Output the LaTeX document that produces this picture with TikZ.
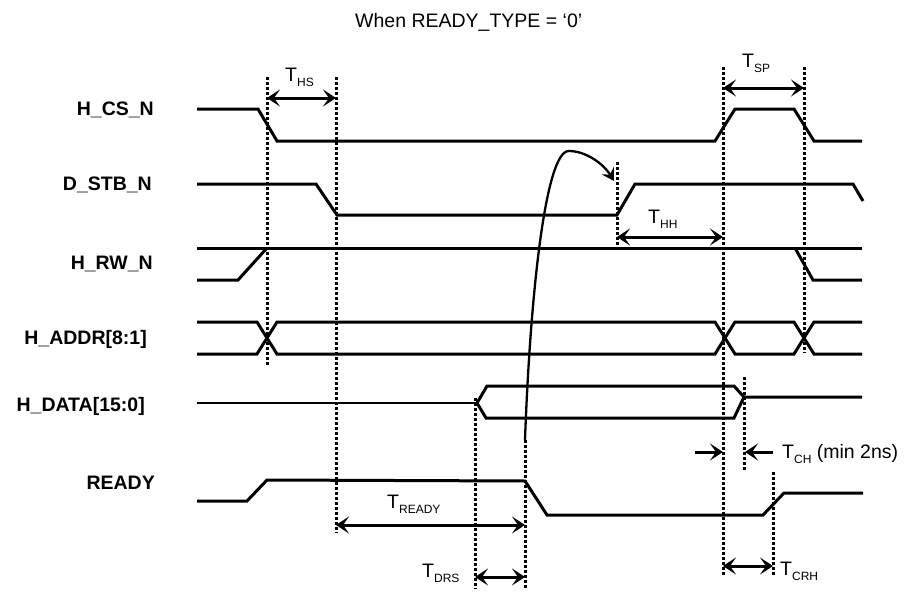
\documentclass[tikz,border=0pt]{standalone}
\usepackage{fontspec}
\setmainfont{Liberation Sans}
\usetikzlibrary{arrows.meta}
\newcommand{\Tsub}[1]{T\raisebox{-5.5pt}{\fontsize{12}{13}\selectfont #1}}
\begin{document}
\begin{tikzpicture}[x=1pt,y=-1pt,
  wave/.style={line width=3pt},
  thinwave/.style={line width=2.3pt},
  guide/.style={line width=3pt, dash pattern=on 2.7pt off 2.3pt},
  tip/.tip={Stealth[length=13pt,width=17pt,inset=6pt]},
  dim/.style={line width=3pt, tip-tip},
  onedim/.style={line width=3pt, -tip},
  sig/.style={font=\bfseries\fontsize{19.5}{22}\selectfont, inner sep=0pt, anchor=base east},
  tlab/.style={font=\fontsize{19.5}{22}\selectfont, inner sep=0pt, anchor=base west}]
\useasboundingbox (0,0) rectangle (906,592);

% title
\node[tlab] (title) at (355,27) {When READY\_TYPE = ‘0’};

% signal names
\node[sig] (lcs)   at (154,115) {H\_CS\_N};
\node[sig] (lstb)  at (152,190) {D\_STB\_N};
\node[sig] (lrw)   at (153,269) {H\_RW\_N};
\node[sig] (laddr) at (147,344) {H\_ADDR[8:1]};
\node[sig] (ldata) at (145,411) {H\_DATA[15:0]};
\node[sig] (lrdy)  at (155,489) {READY};

% waveforms
\draw[wave] (197,109) -- (258,109) -- (277,141) -- (715,141) -- (735,109) -- (794,109) -- (814,141) -- (862,141);
\draw[wave] (197,184) -- (316,184) -- (337,215) -- (617,215) -- (635,184) -- (853,184) -- (863,201);
\draw[wave] (197,248) -- (862,248);
\draw[wave] (197,280) -- (238,280) -- (267,248);
\draw[wave] (795,248) -- (813,280) -- (862,280);
\draw[wave] (197,322) -- (257,322) -- (277,354) -- (715,354) -- (735,322) -- (794,322) -- (814,354) -- (862,354);
\draw[wave] (197,354) -- (257,354) -- (277,322) -- (715,322) -- (735,354) -- (794,354) -- (814,322) -- (862,322);
\draw[thinwave] (197,403) -- (477,403);
\draw[wave] (477,403) -- (487,386) -- (734,386) -- (744,397) -- (862,397);
\draw[wave] (477,403) -- (486,418) -- (734,418) -- (744,397);
\draw[wave] (197,501) -- (247,501) -- (267,480) -- (525,481) -- (547,515) -- (763,515) -- (784,493) -- (863,493);

% dotted guides
\foreach \n/\x/\a/\b in {1/267/77/365, 2/336/77/533, 3/617/162/250, 4/723/67/576,
                          5/804/67/353, 6/744/377/471, 7/773/472/576, 8/475/398/589, 9/525/440/589}{
  \coordinate (g\n t) at (\x,\a);
  \coordinate (g\n b) at (\x,\b);
  \draw[guide] (g\n t) -- (g\n b);
}

% timing arrows
\coordinate (hsA) at (267,98);  \coordinate (hsB) at (336,98);
\coordinate (spA) at (723,88);  \coordinate (spB) at (804,88);
\coordinate (hhA) at (617,237); \coordinate (hhB) at (723,237);
\coordinate (rdA) at (336,525); \coordinate (rdB) at (525,525);
\coordinate (drA) at (475,577); \coordinate (drB) at (525,577);
\coordinate (crA) at (723,566); \coordinate (crB) at (773,566);
\coordinate (chL) at (695,452); \coordinate (chA) at (723,452);
\coordinate (chR) at (773,452); \coordinate (chB) at (745,452);
\draw[dim] (hsA) -- (hsB);
\draw[dim] (spA) -- (spB);
\draw[dim] (hhA) -- (hhB);
\draw[dim] (rdA) -- (rdB);
\draw[dim] (drA) -- (drB);
\draw[dim] (crA) -- (crB);
\draw[onedim] (chL) -- (chA);
\draw[onedim] (chR) -- (chB);

% timing labels
\node[tlab] (ths)  at (285,81)  {\Tsub{HS}};
\node[tlab] (tsp)  at (742,67)  {\Tsub{SP}};
\node[tlab] (thh)  at (648,223) {\Tsub{HH}};
\node[tlab] (trdy) at (387,508) {\Tsub{READY}};
\node[tlab] (tdrs) at (422,577) {\Tsub{DRS}};
\node[tlab] (tcrh) at (780,575) {\Tsub{CRH}};
\node[tlab] (tch)  at (782,458) {\Tsub{CH} (min 2ns)};

% causal curve
\coordinate (cs) at (525,440);
\coordinate (ce) at (614,181);
\draw[line width=2.3pt, -{Stealth[length=12pt,width=14pt,inset=4.5pt]}]
  (cs) .. controls (530,300) and (545,150) .. (569,151) .. controls (585,151) and (603,163) .. (ce);
\end{tikzpicture}
\end{document}
